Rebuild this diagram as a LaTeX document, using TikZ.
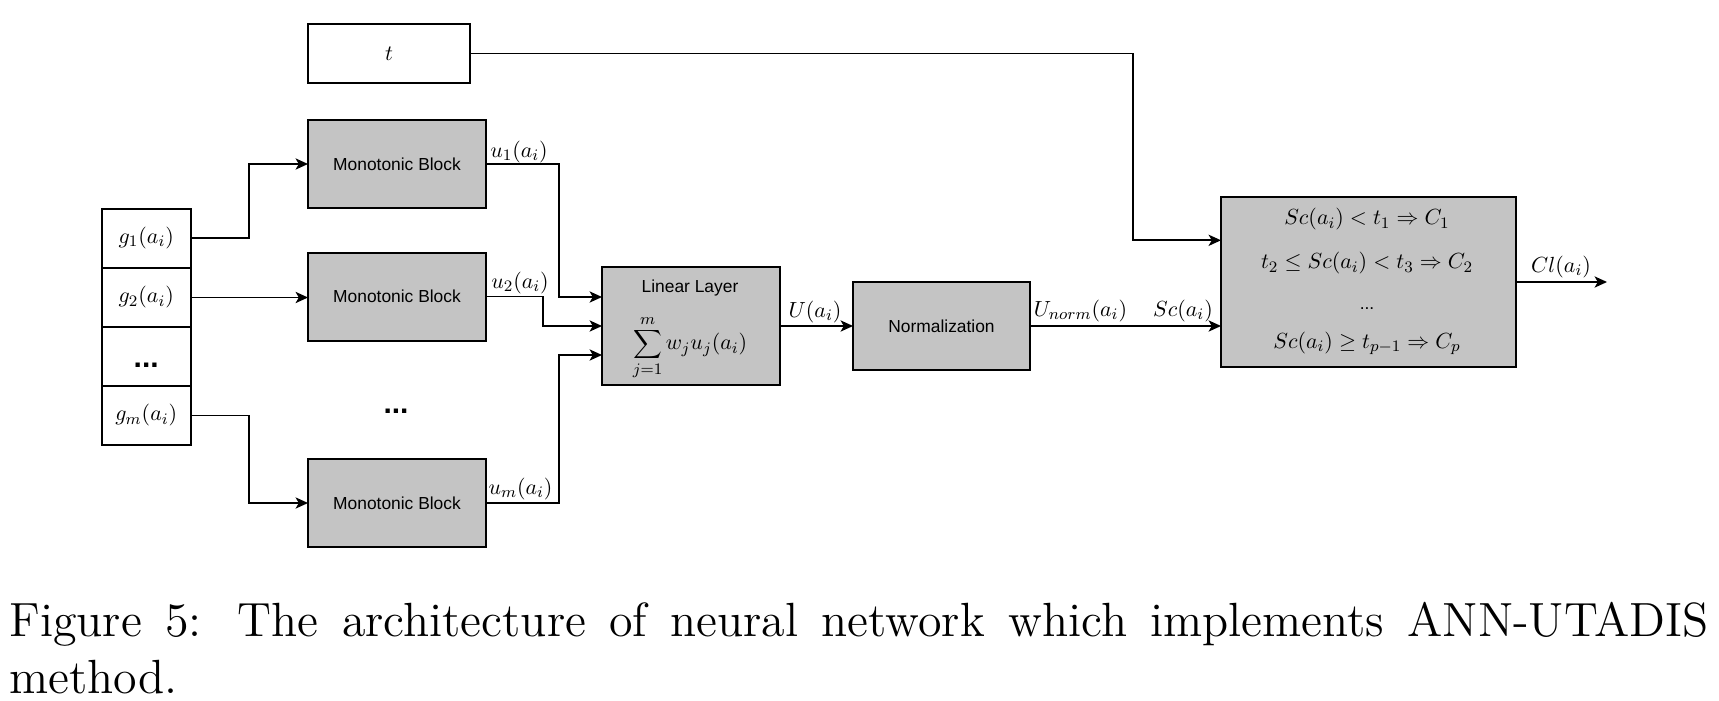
\documentclass[tikz,border=0pt]{standalone}
\usepackage{fontspec}
\newfontfamily\blockfont{Liberation Sans}
\newfontfamily\capfont{lmroman12-regular.otf}
\usetikzlibrary{arrows.meta}
\definecolor{blockgray}{RGB}{196,196,196}
\begin{document}
\begin{tikzpicture}[x=0.5pt,y=-0.5pt,
  box/.style={draw=black, line width=1pt, inner sep=0pt, outer sep=0pt},
  mblock/.style={box, fill=blockgray},
  plainbox/.style={box, fill=white},
  sans/.style={font=\blockfont\fontsize{8.7}{10}\selectfont},
  mathlbl/.style={font=\fontsize{11}{13}\selectfont, inner sep=0pt},
  link/.style={line width=0.9pt},
  conn/.style={link, -{Stealth[length=6.2pt,width=5.6pt,inset=1.6pt]}},
  caption/.style={anchor=base west, inner sep=0pt,
    font=\capfont\fontsize{24}{29}\selectfont}
]
% canvas
\fill[white] (0,0) rectangle (1719,701);
\useasboundingbox (0,0) rectangle (1719,701);

% threshold input
\node[plainbox, minimum width=81pt, minimum height=29.5pt, mathlbl] (t) at (389,53.5) {$t$};

% criteria column
\node[plainbox, minimum width=44.5pt, minimum height=29.5pt, mathlbl] (g1) at (146.2,238) {$g_1(a_i)$};
\node[plainbox, minimum width=44.5pt, minimum height=29.5pt, mathlbl] (g2) at (146.2,297.5) {$g_2(a_i)$};
\node[plainbox, minimum width=44.5pt, minimum height=29.5pt] (gd) at (146.2,356.5) {};
\node[plainbox, minimum width=44.5pt, minimum height=29.5pt, mathlbl] (gm) at (146.2,415.5) {$g_m(a_i)$};
\node[anchor=base, inner sep=0pt, font=\blockfont\bfseries\fontsize{15}{17}\selectfont] (gdots) at (146.2,367.5) {...};

% monotonic blocks
\node[mblock, sans, minimum width=89pt, minimum height=44pt] (mb1) at (397,164) {Monotonic Block};
\node[mblock, sans, minimum width=89pt, minimum height=44pt] (mb2) at (397,296.5) {Monotonic Block};
\node[mblock, sans, minimum width=89pt, minimum height=44pt] (mbm) at (397,503) {Monotonic Block};
\node[anchor=base, inner sep=0pt, font=\blockfont\bfseries\fontsize{15}{17}\selectfont] (mbdots) at (396,413) {...};

% linear layer
\node[mblock, minimum width=89pt, minimum height=59pt] (lin) at (691,326) {};
\node[sans, anchor=base, inner sep=0pt, text depth=0pt] (lintitle) at (690,292.5) {Linear Layer};
\node[mathlbl] (linsum) at (690,347.5) {$\displaystyle\sum_{j=1}^{m} w_j u_j(a_i)$};

% normalization
\node[mblock, sans, minimum width=88.5pt, minimum height=44pt] (norm) at (941.5,326) {Normalization};

% classification rules
\node[mblock, minimum width=147.5pt, minimum height=84.7pt] (cls) at (1368.5,282) {};
\node[mathlbl] (rule1) at (1367,219.3) {$Sc(a_i) < t_1 \Rightarrow C_1$};
\node[mathlbl] (rule2) at (1367,263.3) {$t_2 \leq Sc(a_i) < t_3 \Rightarrow C_2$};
\node[anchor=base, inner sep=0pt, sans] (ruledots) at (1367,309) {...};
\node[mathlbl] (rulep) at (1367,343.3) {$Sc(a_i) \geq t_{p-1} \Rightarrow C_p$};

% bend positions and ports
\coordinate (xa) at (249,0);
\coordinate (xb) at (559,0);
\coordinate (xc) at (543,0);
\coordinate (xt) at (1132.7,0);
\coordinate (lin1) at ([yshift=14.5pt]lin.west);
\coordinate (lin3) at ([yshift=-14.5pt]lin.west);
\coordinate (clsin) at ([yshift=20.85pt]cls.west);
\coordinate (clout) at ([xshift=45.5pt]cls.east);

% connectors
\draw[conn] (g1.east) -- (g1.east -| xa) |- (mb1.west);
\draw[conn] (g2.east) -- (g2.east -| mb2.west);
\draw[conn] (gm.east) -- (gm.east -| xa) |- (mbm.west);
\draw[conn] (mb1.east) -- (mb1.east -| xb) |- (lin1);
\draw[conn] (mb2.east) -- (mb2.east -| xc) |- (lin.west);
\draw[conn] (mbm.east) -- (mbm.east -| xb) |- (lin3);
\draw[conn] (lin.east) -- (norm.west);
\draw[conn] (norm.east) -- (norm.east -| cls.west);
\draw[conn] (t.east) -- (t.east -| xt) |- (clsin);
\draw[conn] (cls.east) -- (clout);

% connector labels
\node[mathlbl] (lu1) at (519,152) {$u_1(a_i)$};
\node[mathlbl] (lu2) at (520,283) {$u_2(a_i)$};
\node[mathlbl] (lum) at (520.5,488.7) {$u_m(a_i)$};
\node[mathlbl] (lU) at (815,312) {$U(a_i)$};
\node[mathlbl] (lUn) at (1080.5,311) {$U_{norm}(a_i)$};
\node[mathlbl] (lSc) at (1183,311) {$Sc(a_i)$};
\node[mathlbl] (lCl) at (1561,267) {$Cl(a_i)$};

% caption
\node[caption] (cap1) at (9,636.3) {\makebox[849.5pt][s]{Figure 5: The architecture of neural network which implements ANN-UTADIS}};
\node[caption] (cap2) at (9,693.7) {method.};
\end{tikzpicture}
\end{document}
